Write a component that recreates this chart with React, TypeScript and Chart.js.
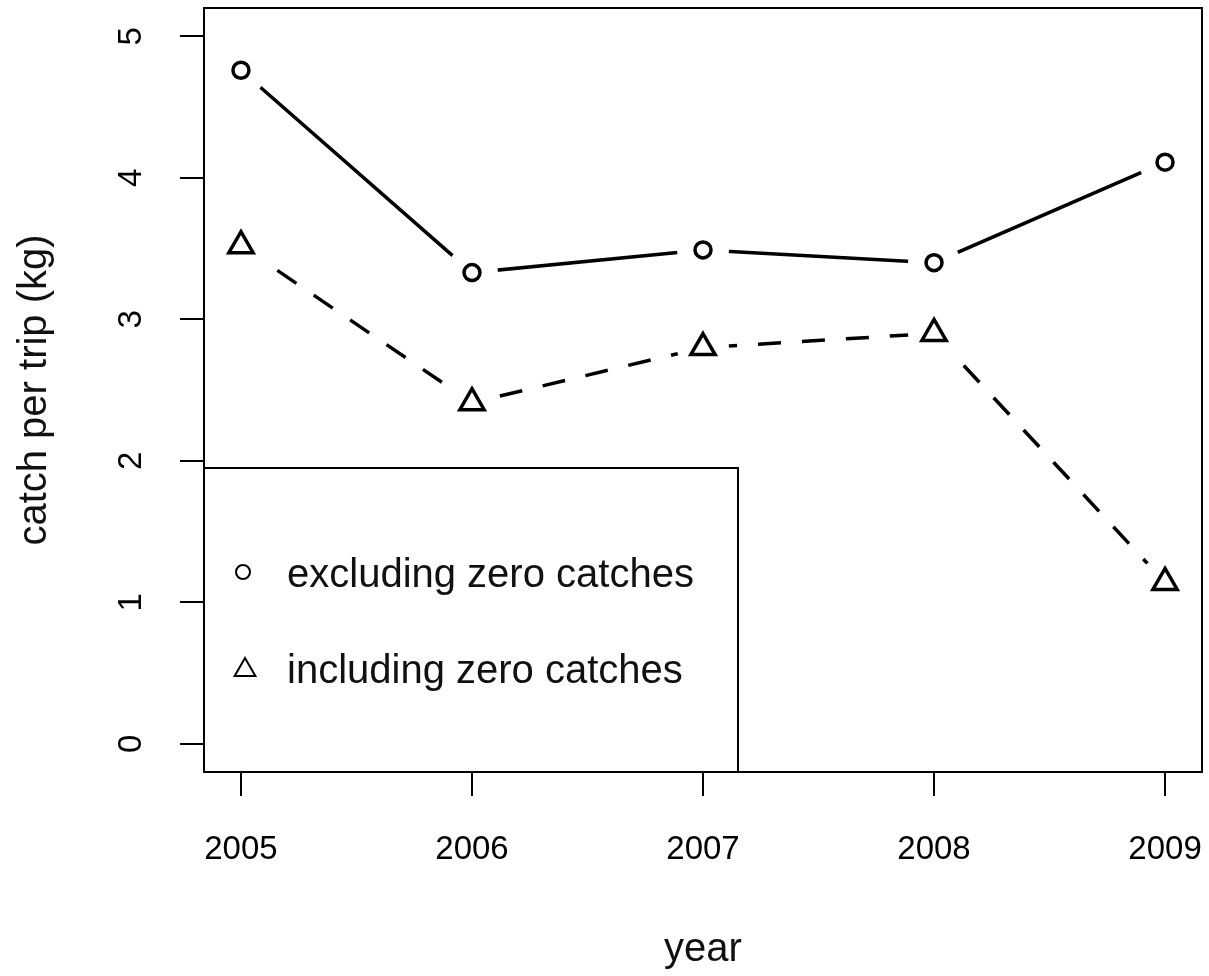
import React, { useEffect, useRef } from "react";
import { Chart, registerables } from "chart.js";

Chart.register(...registerables);

const years = [2005, 2006, 2007, 2008, 2009];
const excludingZero = [4.76, 3.33, 3.49, 3.4, 4.11];
const includingZero = [3.52, 2.41, 2.8, 2.9, 1.14];
const yTickValues = [0, 1, 2, 3, 4, 5];
const seriesLabels = ["excluding zero catches", "including zero catches"];
const xTitle = "year";
const yTitle = "catch per trip (kg)";

const FONT = "'Liberation Sans', Arial, Helvetica, sans-serif";

const frameLegendPlugin = {
  id: "frameLegend",
  afterDraw(chart: any) {
    const { ctx, chartArea } = chart;
    const { left, top, right, bottom } = chartArea;
    ctx.save();
    // legend box (bottom-left)
    const lw = 534;
    const lh = 304;
    ctx.fillStyle = "#fff";
    ctx.fillRect(left, bottom - lh, lw, lh);
    ctx.strokeStyle = "#000";
    ctx.lineWidth = 2;
    ctx.strokeRect(left, bottom - lh, lw, lh);
    // symbols
    const symX = left + 40;
    const y1 = bottom - lh + 104;
    const y2 = bottom - lh + 202;
    ctx.lineWidth = 2;
    ctx.beginPath();
    ctx.arc(symX - 1, y1, 7, 0, Math.PI * 2);
    ctx.stroke();
    const r = 12;
    ctx.beginPath();
    ctx.moveTo(symX + 1, y2 - r);
    ctx.lineTo(symX + 1 + r * Math.sin((2 * Math.PI) / 3), y2 + r / 2);
    ctx.lineTo(symX + 1 - r * Math.sin((2 * Math.PI) / 3), y2 + r / 2);
    ctx.closePath();
    ctx.stroke();
    // texts
    ctx.fillStyle = "#111";
    ctx.font = `40px ${FONT}`;
    ctx.textBaseline = "middle";
    ctx.textAlign = "left";
    ctx.fillText(seriesLabels[0], left + 83, y1 + 4);
    ctx.fillText(seriesLabels[1], left + 83, y2 + 2);
    // plot frame
    ctx.lineWidth = 2;
    ctx.strokeRect(left, top, right - left, bottom - top);
    ctx.restore();
  },
};

export default function App() {
  const canvasRef = useRef<HTMLCanvasElement | null>(null);

  useEffect(() => {
    const canvas = canvasRef.current;
    if (!canvas) return;
    const toPts = (vals: number[]) => years.map((yr, i) => ({ x: yr, y: vals[i] }));
    const chart = new Chart(canvas, {
      type: "line",
      data: {
        datasets: [
          // markers (drawn last)
          {
            label: seriesLabels[0] + " markers",
            data: toPts(excludingZero),
            showLine: false,
            pointStyle: "circle",
            pointRadius: 8,
            pointBorderWidth: 3.5,
            pointBorderColor: "#000",
            pointBackgroundColor: "rgba(0,0,0,0)",
            order: 0,
          },
          {
            label: seriesLabels[1] + " markers",
            data: toPts(includingZero),
            showLine: false,
            pointStyle: "triangle",
            pointRadius: 14,
            pointBorderWidth: 3.5,
            pointBorderColor: "#000",
            pointBackgroundColor: "rgba(0,0,0,0)",
            order: 0,
          },
          // white gaps around points (type = "b")
          {
            label: "gap1",
            data: toPts(excludingZero),
            showLine: false,
            pointStyle: "circle",
            pointRadius: 26,
            pointBorderWidth: 0,
            pointBackgroundColor: "#fff",
            pointBorderColor: "#fff",
            order: 1,
          },
          {
            label: "gap2",
            data: toPts(includingZero),
            showLine: false,
            pointStyle: "circle",
            pointRadius: 26,
            pointBorderWidth: 0,
            pointBackgroundColor: "#fff",
            pointBorderColor: "#fff",
            order: 1,
          },
          // lines
          {
            label: seriesLabels[0],
            data: toPts(excludingZero),
            borderColor: "#000",
            borderWidth: 3.5,
            pointRadius: 0,
            tension: 0,
            fill: false,
            order: 2,
          },
          {
            label: seriesLabels[1],
            data: toPts(includingZero),
            borderColor: "#000",
            borderWidth: 3.5,
            borderDash: [23, 21],
            pointRadius: 0,
            tension: 0,
            fill: false,
            order: 2,
          },
        ],
      },
      options: {
        responsive: false,
        animation: false,
        events: [],
        layout: { autoPadding: false, padding: { top: 8, right: 7, left: 0, bottom: 0 } },
        plugins: {
          legend: { display: false },
          tooltip: { enabled: false },
        },
        scales: {
          x: {
            type: "linear",
            min: 2004.84,
            max: 2009.16,
            afterBuildTicks: (scale: any) => {
              scale.ticks = years.map((v) => ({ value: v }));
            },
            afterFit: (scale: any) => {
              scale.height = 204;
              scale.paddingLeft = 0;
              scale.paddingRight = 0;
            },
            border: { display: false },
            grid: {
              drawOnChartArea: false,
              drawTicks: true,
              tickLength: 24,
              tickColor: "#000",
              tickWidth: 2,
              lineWidth: 2,
              color: "#000",
            },
            ticks: {
              autoSkip: false,
              maxRotation: 0,
              minRotation: 0,
              padding: 34,
              color: "#000",
              font: { family: FONT, size: 33 },
              callback: (v: any) => String(v),
            },
            title: {
              display: true,
              text: xTitle,
              color: "#111",
              font: { family: FONT, size: 40 },
              padding: { top: 0, bottom: 2 },
            },
          },
          y: {
            type: "linear",
            min: -0.2,
            max: 5.2,
            afterBuildTicks: (scale: any) => {
              scale.ticks = yTickValues.map((v) => ({ value: v }));
            },
            afterFit: (scale: any) => {
              scale.width = 204;
              scale.paddingTop = 0;
              scale.paddingBottom = 0;
            },
            border: { display: false },
            grid: {
              drawOnChartArea: false,
              drawTicks: true,
              tickLength: 24,
              tickColor: "#000",
              tickWidth: 2,
              lineWidth: 2,
              color: "#000",
            },
            ticks: {
              autoSkip: false,
              minRotation: 90,
              maxRotation: 90,
              crossAlign: "center",
              padding: 39,
              color: "#000",
              font: { family: FONT, size: 33 },
              callback: (v: any) => String(v),
            },
            title: {
              display: true,
              text: yTitle,
              color: "#111",
              font: { family: FONT, size: 40 },
              padding: { top: 11, bottom: 0 },
            },
          },
        },
      },
      plugins: [frameLegendPlugin],
    } as any);
    return () => chart.destroy();
  }, []);

  return (
    <div style={{ position: "fixed", left: 0, top: 0, width: 1209, height: 976, background: "#fff" }}>
      <canvas ref={canvasRef} width={1209} height={976} style={{ display: "block" }} />
    </div>
  );
}
